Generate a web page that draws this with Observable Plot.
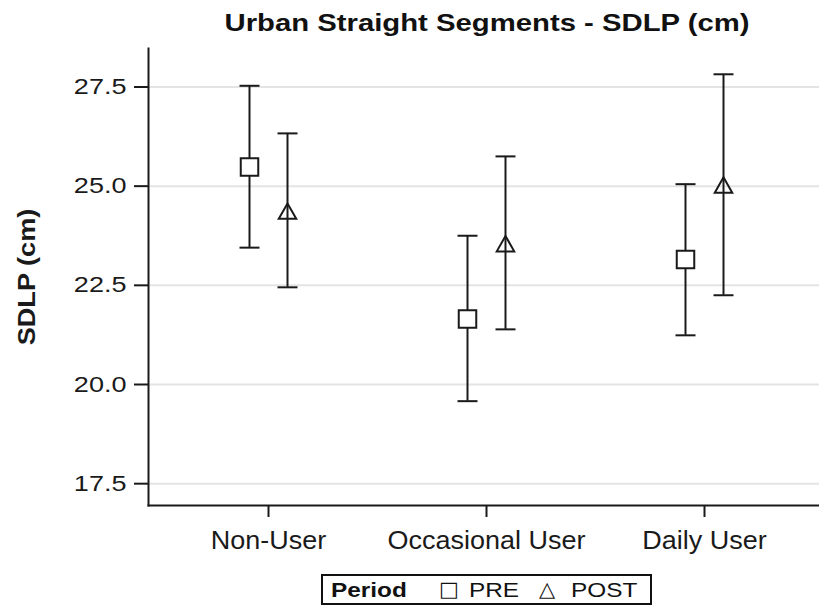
<!DOCTYPE html>
<html>
<head>
<meta charset="utf-8">
<script src="https://cdn.jsdelivr.net/npm/d3@7"></script>
<script src="https://cdn.jsdelivr.net/npm/@observablehq/plot@0.6"></script>
<style>
  body { margin: 0; background: #fff; }
  #wrap { position: relative; width: 819px; height: 608px; overflow: hidden;
          font-family: "Liberation Sans", Arial, sans-serif; color: #111; }
  #chart { position: absolute; left: 0; top: 0; }
  #title { position: absolute; left: 487px; top: 11px; white-space: nowrap; font-weight: bold;
           font-size: 24px; line-height: 1; transform: translateX(-50%) scaleX(1.22); }
  #legend { position: absolute; left: 321px; top: 574px; width: 327px; height: 27px;
            border: 2px solid #111; }
  .lg { position: absolute; top: 3px; white-space: nowrap; font-size: 21px; line-height: 1;
        transform-origin: 0 0; transform: scaleX(1.16); }
  .sym { font-family: "DejaVu Sans", sans-serif; transform: none; }
</style>
</head>
<body>
<div id="wrap">
  <div id="chart"></div>
  <div id="title"></div>
  <div id="legend"></div>
</div>
<script>
// ---- data ----
const title = "Urban Straight Segments - SDLP (cm)";
const yLabel = "SDLP (cm)";
const categories = ["Non-User", "Occasional User", "Daily User"];
const periods = ["PRE", "POST"];
const legendTitle = "Period";
const preMean  = [25.48, 21.65, 23.15];
const preLow   = [23.45, 19.58, 21.24];
const preHigh  = [27.53, 23.75, 25.05];
const postMean = [24.37, 23.55, 25.03];
const postLow  = [22.45, 21.39, 22.25];
const postHigh = [26.33, 25.75, 27.82];
const yTicks = [17.5, 20.0, 22.5, 25.0, 27.5];
const yDomain = [16.95, 28.47];

// ---- build rows ----
const pre = categories.map((c, i) => ({cat: c, period: "PRE", mean: preMean[i], lo: preLow[i], hi: preHigh[i]}));
const post = categories.map((c, i) => ({cat: c, period: "POST", mean: postMean[i], lo: postLow[i], hi: postHigh[i]}));

const ink = "#1a1a1a";
const capSym = {draw(ctx, size) { const r = Math.sqrt(size / Math.PI); ctx.moveTo(-r, 0); ctx.lineTo(r, 0); }};
const sqSym = {draw(ctx, size) { const r = Math.sqrt(size / Math.PI); ctx.rect(-r, -r, 2 * r, 2 * r); }};
const triSym = {draw(ctx, size) { const r = Math.sqrt(size / Math.PI); const h = r * 0.88;
  ctx.moveTo(0, -h); ctx.lineTo(r, h); ctx.lineTo(-r, h); ctx.closePath(); }};

const series = [
  {data: pre, dx: -19, symbol: sqSym, r: 8.75, fill: "white"},
  {data: post, dx: 19, symbol: triSym, r: 8.75, fill: "none"}
];

const chart = Plot.plot({
  width: 819,
  height: 608,
  marginTop: 48,
  marginBottom: 103,
  marginLeft: 148,
  marginRight: 0,
  style: {fontFamily: '"Liberation Sans", Arial, sans-serif', color: ink, background: "transparent"},
  x: {type: "point", domain: categories, range: [148, 824], padding: 0.55, axis: null},
  y: {domain: yDomain, axis: null},
  marks: [
    Plot.gridY(yTicks, {stroke: "#e4e4e4", strokeOpacity: 1, strokeWidth: 2}),
    Plot.frame({anchor: "left", stroke: ink, strokeWidth: 2}),
    Plot.frame({anchor: "bottom", stroke: ink, strokeWidth: 2}),
    Plot.axisY({ticks: yTicks, tickFormat: d => d.toFixed(1), tickSize: 14, tickPadding: 8,
      strokeWidth: 2, fontSize: 22, label: null, stroke: ink}),
    Plot.axisX({tickSize: 12, tickPadding: 14, strokeWidth: 2, fontSize: 25, label: null, stroke: ink}),
    Plot.text([yLabel], {text: d => d, frameAnchor: "left", textAnchor: "middle", rotate: -90, dx: -121,
      fontSize: 23, fontWeight: "bold", fill: ink}),
    ...series.flatMap(s => [
      Plot.ruleX(s.data, {x: "cat", y1: "lo", y2: "hi", dx: s.dx, stroke: ink, strokeWidth: 2}),
      Plot.dot(s.data, {x: "cat", y: "hi", dx: s.dx, symbol: capSym, r: 10, stroke: ink, strokeWidth: 2, fill: "none"}),
      Plot.dot(s.data, {x: "cat", y: "lo", dx: s.dx, symbol: capSym, r: 10, stroke: ink, strokeWidth: 2, fill: "none"}),
      Plot.dot(s.data, {x: "cat", y: "mean", dx: s.dx, symbol: s.symbol, r: s.r, stroke: ink, strokeWidth: 2, fill: s.fill})
    ])
  ]
});
document.getElementById("chart").appendChild(chart);

// horizontally widen text glyphs to match the reference's wide lettering
d3.select(chart).selectAll("text").each(function() {
  const s = this.textContent;
  const k = categories.includes(s) ? 1.08 : (/^[0-9.]+$/.test(s) ? 1.23 : 1.18);
  const t = this.getAttribute("transform");
  if (t) this.setAttribute("transform", t + ` scale(${k},1)`);
  else {
    const x = +this.getAttribute("x") || 0, y = +this.getAttribute("y") || 0;
    this.removeAttribute("x"); this.removeAttribute("y");
    this.setAttribute("transform", `translate(${x},${y}) scale(${k},1)`);
  }
});

document.getElementById("title").textContent = title;

const legend = document.getElementById("legend");
const items = [
  {text: legendTitle, left: 8, bold: true},
  {text: "\u25A1", left: 116, sym: true},
  {text: periods[0], left: 146},
  {text: "\u25B3", left: 216, sym: true},
  {text: periods[1], left: 248}
];
for (const it of items) {
  const sp = document.createElement("span");
  sp.className = "lg" + (it.sym ? " sym" : "");
  sp.textContent = it.text;
  sp.style.left = it.left + "px";
  if (it.bold) sp.style.fontWeight = "bold";
  legend.appendChild(sp);
}
</script>
</body>
</html>
